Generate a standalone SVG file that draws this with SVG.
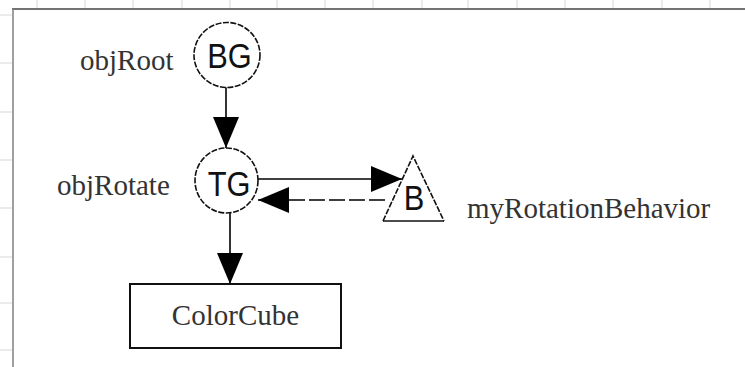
<svg xmlns="http://www.w3.org/2000/svg" width="745" height="367" viewBox="0 0 745 367">
<defs>
<marker id="ah" markerUnits="userSpaceOnUse" markerWidth="32" markerHeight="28" refX="31" refY="13" orient="auto">
<path d="M0,0 L31,13 L0,26 z" fill="#000"/>
</marker>
<style>
.grid{stroke:#ebebeb;stroke-width:2}
.lbl{font-family:"Liberation Serif","Times New Roman",serif;font-size:29px;fill:#333}
.in{font-family:"Liberation Sans",Arial,sans-serif;font-size:35px;fill:#111;text-anchor:middle}
.shape{fill:#fff;stroke:#111;stroke-width:1.6}
.dash{stroke-dasharray:6 1.5}
.edge{stroke:#000;stroke-width:1.6;fill:none}
</style>
</defs>
<rect width="745" height="367" fill="#fff"/>
<g id="grid">
<path class="grid" d="M37,0V8M85,0V8M133,0V8M182,0V8M230,0V8M277,0V8M325,0V8M373,0V8M422,0V8M468,0V8M517,0V8M565,0V8M613,0V8M662,0V8M710,0V8"/>
<path class="grid" d="M0,15H12M0,63H12M0,112H12M0,160H12M0,208H12M0,257H12M0,303H12M0,350H12"/>
</g>
<g id="frame">
<line x1="12" y1="9" x2="745" y2="9" stroke="#444" stroke-width="1.6"/>
<line x1="13" y1="9" x2="13" y2="367" stroke="#888" stroke-width="1.6"/>
</g>
<g id="connectors">
<line class="edge" x1="226" y1="87" x2="226" y2="148" marker-end="url(#ah)"/>
<line class="edge" x1="230" y1="213" x2="230" y2="284" marker-end="url(#ah)"/>
<line class="edge" x1="258" y1="179" x2="402" y2="179" marker-end="url(#ah)"/>
<line class="edge" x1="385" y1="200" x2="258" y2="200" stroke-width="2.4" stroke-dasharray="16 4" marker-end="url(#ah)"/>
</g>
<g id="node-bg">
<ellipse class="shape dash" cx="227" cy="55" rx="33" ry="32.5"/>
<text class="in" transform="translate(229.5,68) scale(0.88,1)">BG</text>
<text class="lbl" x="80" y="70">objRoot</text>
</g>
<g id="node-tg">
<ellipse class="shape dash" cx="226.5" cy="180.5" rx="31.5" ry="32.5"/>
<text class="in" transform="translate(229,196) scale(0.88,1)">TG</text>
<text class="lbl" x="57" y="195">objRotate</text>
</g>
<g id="node-b">
<path class="shape dash" d="M383,221 L413,156 L444,221" fill="#fff"/>
<line x1="383" y1="221" x2="444" y2="221" stroke="#111" stroke-width="1.6"/>
<text class="in" transform="translate(414,210) scale(0.88,1)">B</text>
<text class="lbl" x="467" y="218">myRotationBehavior</text>
</g>
<g id="node-colorcube">
<rect x="130" y="284" width="211" height="64" fill="#fff" stroke="#111" stroke-width="2"/>
<text class="lbl" x="235.5" y="325" text-anchor="middle">ColorCube</text>
</g>
</svg>
